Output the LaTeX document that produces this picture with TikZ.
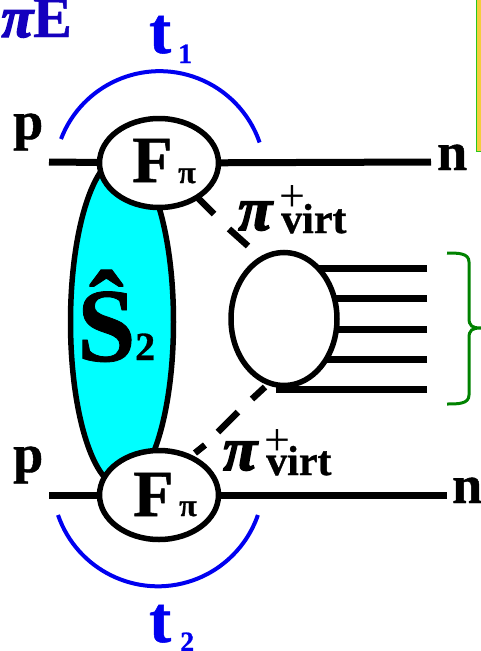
\documentclass[tikz,border=0pt]{standalone}
\usepackage{fontspec}
\usetikzlibrary{shapes.geometric}
\setmainfont[BoldFeatures={FakeBold=0.8}]{Liberation Serif}
\newfontfamily\pifont[FakeBold=2.5]{Liberation Serif Bold Italic}
\definecolor{myblue}{RGB}{0,0,240}
\definecolor{darkblue}{RGB}{20,0,190}
\definecolor{mycyan}{RGB}{0,255,255}
\definecolor{mygreen}{RGB}{0,130,0}
\definecolor{boxfill}{RGB}{245,205,60}
\definecolor{boxline}{RGB}{40,200,30}
\newcommand{\fs}[1]{\fontsize{#1}{#1}\selectfont}
\tikzset{
 txt/.style={inner sep=0pt,anchor=base west,font=\bfseries},
 wire/.style={line width=7pt,black},
 dashseg/.style={line width=6.5pt,black},
 blob/.style={ellipse,line width=5.5pt,draw=black,fill=white,inner sep=0pt,outer sep=0pt},
 formfactor/.style={blob,minimum width=119pt,minimum height=89pt},
 arcline/.style={line width=4pt,myblue},
}
\begin{document}
\begin{tikzpicture}[x=1pt,y=-1pt]
\useasboundingbox (0,0) rectangle (481,651);
% yellow box
\fill[boxfill] (476,0) rectangle (481,152);
\draw[line width=1.5pt,boxline] (481,151.5) -- (476.5,151.5) -- (476.5,0);
% coordinates
\coordinate (p1) at (49,162);
\coordinate (n1) at (431,162);
\coordinate (p2) at (49,495);
\coordinate (n2) at (447,495);
\coordinate (o1) at (427,268);
\coordinate (o2) at (427,298.5);
\coordinate (o3) at (427,329);
\coordinate (o4) at (427,359);
\coordinate (o5) at (427,389);
\coordinate (o5s) at (276,389);
% big ellipse
\node[blob,fill=mycyan,minimum width=103pt,minimum height=330pt] (S2) at (122,322) {};
% outgoing lines
\coordinate (Bc) at (284,319);
\foreach \o in {o1,o2,o3,o4}{\draw[wire] (\o) -- (\o -| Bc);}
\draw[wire] (o5) -- (o5s);
\node[blob,minimum width=106pt,minimum height=133pt] (B) at (Bc) {};
% proton lines
\node[formfactor] (F1) at (159,163) {};
\node[formfactor] (F2) at (159,495) {};
\draw[wire] (p1) -- (F1);
\draw[wire] (n1) -- (F1);
\draw[wire] (p2) -- (F2);
\draw[wire] (n2) -- (F2);
% virtual pions
\coordinate (d1a) at (198,198); \coordinate (d1b) at (214,214);
\coordinate (d1c) at (229,229); \coordinate (d1d) at (248,246);
\coordinate (d2a) at (195,453); \coordinate (d2b) at (205,445);
\coordinate (d2c) at (218,432); \coordinate (d2d) at (238,412);
\coordinate (d2e) at (252,399); \coordinate (d2f) at (265,387);
\draw[dashseg] (d1a) -- (d1b);
\draw[dashseg] (d1c) -- (d1d);
\draw[dashseg] (d2a) -- (d2b);
\draw[dashseg] (d2c) -- (d2d);
\draw[dashseg] (d2e) -- (d2f);
% arcs
\coordinate (t1s) at (61,139);
\coordinate (t2s) at (58,515);
\draw[arcline] (t1s) arc[start angle=159,end angle=19,radius=105.7pt];
\draw[arcline] (t2s) arc[start angle=199,end angle=341,radius=105.7pt];
% bracket
\coordinate (ba) at (447,253);
\coordinate (bb) at (447,404);
\coordinate (bt) at (481,328);
\draw[mygreen,line width=3pt] (ba) .. controls (458,253) and (469,253) .. (469,262)
  -- (469,318) .. controls (469,326) and (472,328) .. (bt)
  .. controls (472,328) and (469,330) .. (469,338)
  -- (469,395) .. controls (469,404) and (458,404) .. (bb);
% texts
\node[txt,anchor=base east,text=darkblue,font=\fs{58}\bfseries] (title) at (72,37) {{\pifont π}E};
\node[txt,text=myblue,font=\fs{66}\bfseries] (t1) at (149,53) {t};
\node[txt,text=myblue,font=\fs{28}\bfseries] (t1i) at (178,63) {1};
\node[txt,text=myblue,font=\fs{66}\bfseries] (t2) at (149,642) {t};
\node[txt,text=myblue,font=\fs{28}\bfseries] (t2i) at (180,651) {2};
\node[txt,font=\fs{54}\bfseries] (lp1) at (13,139) {p};
\node[txt,font=\fs{54}\bfseries] (lp2) at (13,472) {p};
\node[txt,font=\fs{54}\bfseries] (ln1) at (437,170) {n};
\node[txt,font=\fs{54}\bfseries] (ln2) at (452,503) {n};
\node[txt,font=\fs{66}\bfseries] (f1) at (132,182) {F};
\node[txt,font=\fs{32}\bfseries] (f1p) at (178,183) {π};
\node[txt,font=\fs{66}\bfseries] (f2) at (133,516) {F};
\node[txt,font=\fs{32}\bfseries] (f2p) at (179,516) {π};
\node[txt,font=\fs{62}\pifont] (v1) at (238,230) {π};
\node[txt,font=\fs{42}\bfseries] (v1s) at (281,233) {virt};
\node[txt,font=\fs{46}] (v1p) at (279,211) {+};
\node[txt,font=\fs{62}\pifont] (v2) at (223,470) {π};
\node[txt,font=\fs{42}\bfseries] (v2s) at (266,475) {virt};
\node[txt,font=\fs{46}] (v2p) at (264,455) {+};
\node[txt,font=\fs{105}\bfseries] (S) at (77,361) {Ŝ};
\node[txt,font=\fs{40}\bfseries] (Si) at (135,360) {2};
\end{tikzpicture}
\end{document}
